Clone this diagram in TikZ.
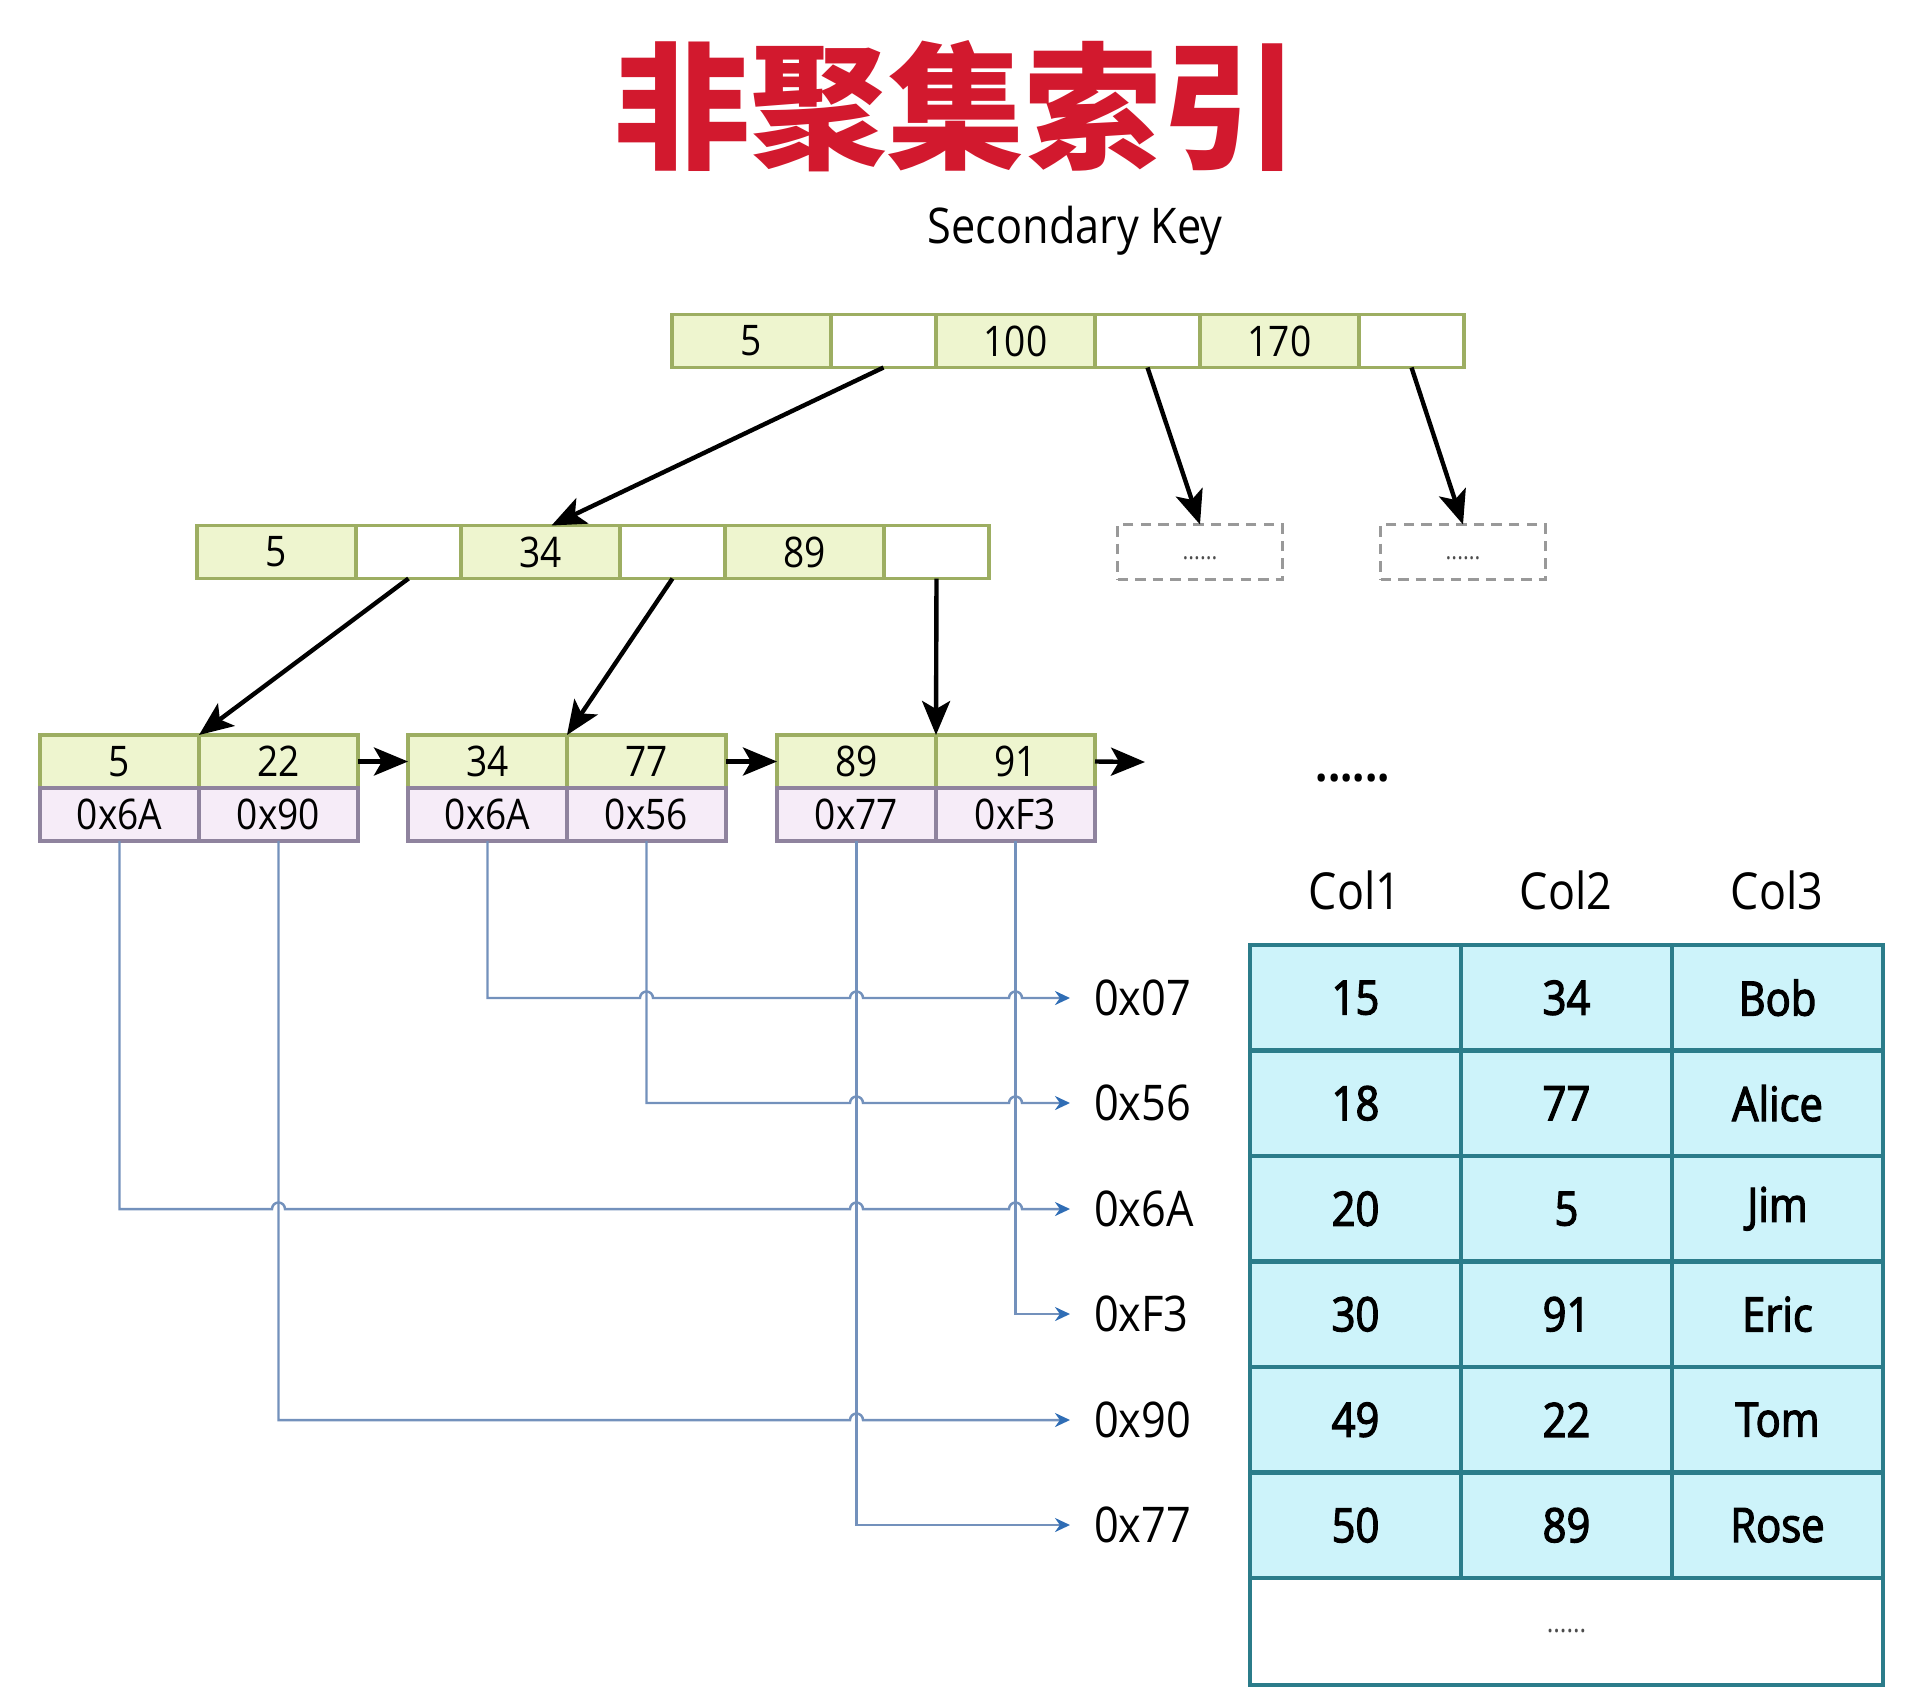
\documentclass[tikz,border=0pt]{standalone}
\usepackage{fontspec}
\setmainfont{Open Sans}
\newfontfamily\cjkfont{Noto Sans CJK SC}
\newfontfamily\narrowfont[FakeStretch=0.88]{Open Sans}
\newfontfamily\rowfont[FakeStretch=0.88, FakeBold=2.5]{Open Sans}
\usetikzlibrary{positioning, arrows.meta}

\definecolor{keyfill}{HTML}{EEF5CF}
\definecolor{keyline}{HTML}{9DAE62}
\definecolor{addrfill}{HTML}{F6ECF8}
\definecolor{addrline}{HTML}{8F839E}
\definecolor{rowfill}{HTML}{CDF3FA}
\definecolor{rowline}{HTML}{2B7C8A}
\definecolor{linkline}{HTML}{7391BC}
\definecolor{linktip}{HTML}{2F6DB5}
\definecolor{titlered}{HTML}{D2192E}

\begin{document}
\begin{tikzpicture}[x=0.1mm, y=-0.1mm, node distance=0pt]
\tikzstyle{every node}=[inner sep=0pt, outer sep=0pt]
\tikzstyle{keycell}=[draw=keyline, fill=keyfill, line width=0.9pt, minimum width=1.59cm, minimum height=0.53cm, font=\narrowfont\fontsize{12}{14}\selectfont]
\tikzstyle{ptrcell}=[keycell, fill=white, minimum width=1.05cm]
\tikzstyle{addrcell}=[keycell, draw=addrline, fill=addrfill]
\tikzstyle{stubbox}=[draw=gray!80, densely dashed, line width=0.8pt, minimum width=1.65cm, minimum height=0.55cm, font=\narrowfont\fontsize{7}{8}\selectfont, text=black!70]
\tikzstyle{rowcell}=[draw=rowline, fill=rowfill, line width=1.2pt, minimum width=2.11cm, minimum height=1.055cm, font=\rowfont\fontsize{13.5}{16}\selectfont]
\tikzstyle{addr}=[anchor=west, inner xsep=2.4mm, font=\narrowfont\fontsize{14}{16}\selectfont]
\tikzstyle{colhead}=[font=\narrowfont\fontsize{14.5}{16}\selectfont]
\tikzstyle{treearrow}=[draw, -{Stealth[length=3.4mm, width=2.8mm, inset=0.8mm]}, line width=1.25pt]
\tikzstyle{link}=[draw=linkline, line width=0.7pt, -{Stealth[length=1.5mm, width=1.4mm, color=linktip]}]

\useasboundingbox (0,0) rectangle (1906,1698);

% title
\node[font=\cjkfont\bfseries\fontsize{39}{44}\selectfont, text=titlered] (title) at (956,106) {非聚集索引};
\node[font=\narrowfont\fontsize{14}{16}\selectfont] (seckey) at (1075,231) {Secondary Key};

% root node
\node[keycell, anchor=west] (r1) at (672,341) {5};
\node[ptrcell, right=of r1] (r1p) {};
\node[keycell, right=of r1p] (r2) {100};
\node[ptrcell, right=of r2] (r2p) {};
\node[keycell, right=of r2p] (r3) {170};
\node[ptrcell, right=of r3] (r3p) {};

% second level
\node[keycell, anchor=west] (m1) at (197,552) {5};
\node[ptrcell, right=of m1] (m1p) {};
\node[keycell, right=of m1p] (m2) {34};
\node[ptrcell, right=of m2] (m2p) {};
\node[keycell, right=of m2p] (m3) {89};
\node[ptrcell, right=of m3] (m3p) {};

\node[stubbox] (d1) at (1200,552) {\raisebox{-1.5mm}{......}};
\node[stubbox] (d2) at (1463,552) {\raisebox{-1.5mm}{......}};

% leaves
\node[keycell, anchor=north west] (l1k1) at (40,735) {5};
\node[keycell, right=of l1k1] (l1k2) {22};
\node[addrcell, below=of l1k1] (l1a1) {0x6A};
\node[addrcell, below=of l1k2] (l1a2) {0x90};

\node[keycell, anchor=north west] (l2k1) at (408,735) {34};
\node[keycell, right=of l2k1] (l2k2) {77};
\node[addrcell, below=of l2k1] (l2a1) {0x6A};
\node[addrcell, below=of l2k2] (l2a2) {0x56};

\node[keycell, anchor=north west] (l3k1) at (777,735) {89};
\node[keycell, right=of l3k1] (l3k2) {91};
\node[addrcell, below=of l3k1] (l3a1) {0x77};
\node[addrcell, below=of l3k2] (l3a2) {0xF3};

\coordinate (l3next) at (1145,762);
\node[font=\narrowfont\bfseries\fontsize{14}{16}\selectfont] (more) at (1353,778) {......};

% tree arrows
\draw[treearrow] (r1p.south) -- ([xshift=1.1mm]m2.north);
\draw[treearrow] (r2p.south) -- (d1.north);
\draw[treearrow] (r3p.south) -- (d2.north);
\draw[treearrow] (m1p.south) -- (l1k1.north east);
\draw[treearrow] (m2p.south) -- (l2k1.north east);
\draw[treearrow] (m3p.south) -- (l3k1.north east);
\draw[treearrow] (l1k2.east) -- (l2k1.west);
\draw[treearrow] (l2k2.east) -- (l3k1.west);
\draw[treearrow] (l3k2.east) -- (l3next);

% table
\node[colhead] (c1) at (1355,890) {Col1};
\node[colhead] (c2) at (1566,890) {Col2};
\node[colhead] (c3) at (1777,890) {Col3};

\node[rowcell, anchor=north west] (t11) at (1250,945) {15};
\node[rowcell, right=of t11] (t12) {34};
\node[rowcell, right=of t12] (t13) {Bob};
\node[rowcell, below=of t11] (t21) {18};
\node[rowcell, right=of t21] (t22) {77};
\node[rowcell, right=of t22] (t23) {Alice};
\node[rowcell, below=of t21] (t31) {20};
\node[rowcell, right=of t31] (t32) {5};
\node[rowcell, right=of t32] (t33) {Jim};
\node[rowcell, below=of t31] (t41) {30};
\node[rowcell, right=of t41] (t42) {91};
\node[rowcell, right=of t42] (t43) {Eric};
\node[rowcell, below=of t41] (t51) {49};
\node[rowcell, right=of t51] (t52) {22};
\node[rowcell, right=of t52] (t53) {Tom};
\node[rowcell, below=of t51] (t61) {50};
\node[rowcell, right=of t61] (t62) {89};
\node[rowcell, right=of t62] (t63) {Rose};
\node[rowcell, fill=white, anchor=north west, minimum width=6.33cm, minimum height=1.07cm, font=\narrowfont\fontsize{8}{9}\selectfont, text=black!70] (tmore) at (t61.south west) {......};

% row addresses
\node[addr] (a07) at (1070,998) {0x07};
\node[addr] (a56) at (1070,1103) {0x56};
\node[addr] (a6A) at (1070,1209) {0x6A};
\node[addr] (aF3) at (1070,1314) {0xF3};
\node[addr] (a90) at (1070,1420) {0x90};
\node[addr] (a77) at (1070,1525) {0x77};

% pointers into the table
\draw[link] (l2a1.south) |- ([xshift=-0.65mm]l2a2.south |- a07.west) arc[start angle=180, end angle=0, radius=0.65mm]
  -- ([xshift=-0.65mm]l3a1.south |- a07.west) arc[start angle=180, end angle=0, radius=0.65mm]
  -- ([xshift=-0.65mm]l3a2.south |- a07.west) arc[start angle=180, end angle=0, radius=0.65mm] -- (a07.west);
\draw[link] (l2a2.south) |- ([xshift=-0.65mm]l3a1.south |- a56.west) arc[start angle=180, end angle=0, radius=0.65mm]
  -- ([xshift=-0.65mm]l3a2.south |- a56.west) arc[start angle=180, end angle=0, radius=0.65mm] -- (a56.west);
\draw[link] (l1a1.south) |- ([xshift=-0.65mm]l1a2.south |- a6A.west) arc[start angle=180, end angle=0, radius=0.65mm]
  -- ([xshift=-0.65mm]l3a1.south |- a6A.west) arc[start angle=180, end angle=0, radius=0.65mm]
  -- ([xshift=-0.65mm]l3a2.south |- a6A.west) arc[start angle=180, end angle=0, radius=0.65mm] -- (a6A.west);
\draw[link] (l3a2.south) |- (aF3.west);
\draw[link] (l1a2.south) |- ([xshift=-0.65mm]l3a1.south |- a90.west) arc[start angle=180, end angle=0, radius=0.65mm] -- (a90.west);
\draw[link] (l3a1.south) |- (a77.west);
\end{tikzpicture}
\end{document}
